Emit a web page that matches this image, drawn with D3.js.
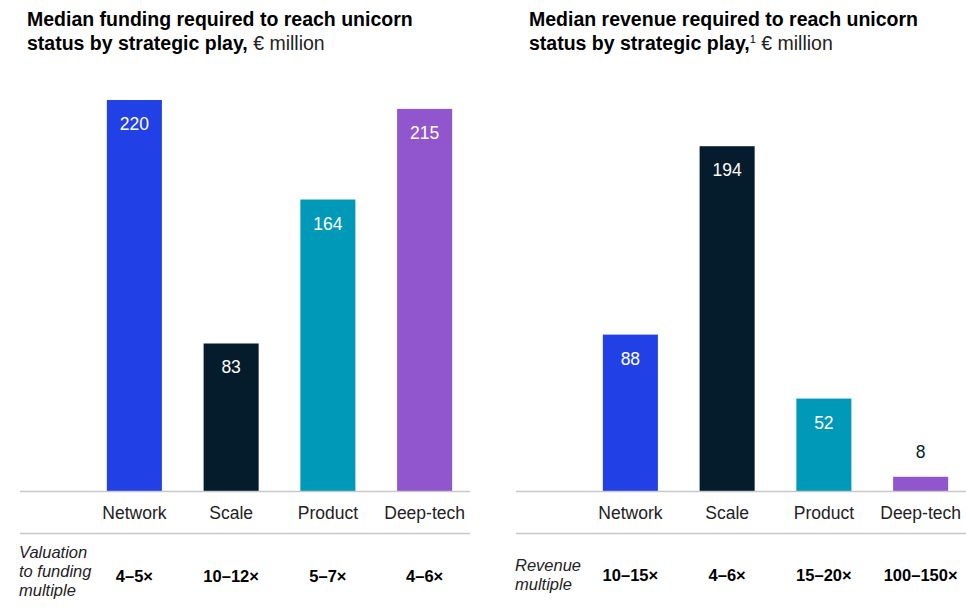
<!DOCTYPE html>
<html>
<head>
<meta charset="utf-8">
<script src="https://cdn.jsdelivr.net/npm/d3@7"></script>
<style>
  body { margin: 0; background: #fff; }
  text { font-family: "Liberation Sans", Arial, sans-serif; }
</style>
</head>
<body>
<div id="chart"></div>
<script>
var categories = ["Network", "Scale", "Product", "Deep-tech"];
var colors = ["#2140e6", "#051c2c", "#0099b7", "#9156cd"];
var fundingValues = [220, 83, 164, 215];
var revenueValues = [88, 194, 52, 8];
var fundingMultiples = ["4\u20135\u00d7", "10\u201312\u00d7", "5\u20137\u00d7", "4\u20136\u00d7"];
var revenueMultiples = ["10\u201315\u00d7", "4\u20136\u00d7", "15\u201320\u00d7", "100\u2013150\u00d7"];

var width = 966, height = 611;
var baseline = 491;

var svg = d3.select("#chart")
    .append("svg")
    .attr("width", width)
    .attr("height", height);

// shared value scale, both panels use the same px per million
var y = d3.scaleLinear()
    .domain([0, 220])
    .range([baseline, 100]);

var panels = [
    {
        x0: 20, x1: 470, titleX: 27,
        title1: "Median funding required to reach unicorn",
        title2: "status by strategic play,", sup: "", unit: " \u20ac million",
        values: fundingValues, multiples: fundingMultiples,
        rowLabel: ["Valuation", "to funding", "multiple"], rowY: 558, multY: 582
    },
    {
        x0: 516, x1: 966, titleX: 529,
        title1: "Median revenue required to reach unicorn",
        title2: "status by strategic play,", sup: "1", unit: " \u20ac million",
        values: revenueValues, multiples: revenueMultiples,
        rowLabel: ["Revenue", "multiple"], rowY: 571, multY: 581
    }
];

panels.forEach(function (p) {
    var g = svg.append("g");

    var x = d3.scaleBand()
        .domain(categories)
        .range([p.x0 + 66, p.x0 + 453])
        .paddingInner(0.431)
        .paddingOuter(0.2155);

    // title
    var t1 = g.append("text")
        .attr("x", p.titleX)
        .attr("y", 26)
        .style("font-size", "19.5px")
        .style("font-weight", "bold")
        .style("fill", "#000")
        .text(p.title1);
    var t2 = g.append("text")
        .attr("x", p.titleX)
        .attr("y", 50)
        .style("font-size", "19.5px")
        .style("fill", "#000");
    t2.append("tspan").style("font-weight", "bold").text(p.title2);
    if (p.sup) {
        t2.append("tspan").attr("dy", -7).style("font-size", "11px").text(p.sup);
        t2.append("tspan").attr("dy", 7).style("font-weight", "300").style("fill", "#222").text(p.unit);
    } else {
        t2.append("tspan").style("font-weight", "300").style("fill", "#222").text(p.unit);
    }

    // bars
    g.selectAll("rect.bar")
        .data(p.values)
        .enter()
        .append("rect")
        .attr("class", "bar")
        .attr("x", function (d, i) { return x(categories[i]); })
        .attr("y", function (d) { return y(d); })
        .attr("width", x.bandwidth())
        .attr("height", function (d) { return baseline - y(d); })
        .style("fill", function (d, i) { return colors[i]; });

    // value labels
    g.selectAll("text.val")
        .data(p.values)
        .enter()
        .append("text")
        .attr("class", "val")
        .attr("x", function (d, i) { return x(categories[i]) + x.bandwidth() / 2; })
        .attr("y", function (d) {
            return (baseline - y(d)) > 40 ? y(d) + 30 : y(d) - 19;
        })
        .attr("text-anchor", "middle")
        .style("font-size", "17.5px")
        .style("fill", function (d) { return (baseline - y(d)) > 40 ? "#fff" : "#051c2c"; })
        .text(function (d) { return d; });

    // axis lines
    g.append("line")
        .attr("x1", p.x0).attr("x2", p.x1)
        .attr("y1", baseline + 0.5).attr("y2", baseline + 0.5)
        .style("stroke", "#c8c8c8").style("stroke-width", 1.3);
    g.append("line")
        .attr("x1", p.x0).attr("x2", p.x1)
        .attr("y1", 533.5).attr("y2", 533.5)
        .style("stroke", "#c8c8c8").style("stroke-width", 1.3);

    // category labels
    g.selectAll("text.cat")
        .data(categories)
        .enter()
        .append("text")
        .attr("class", "cat")
        .attr("x", function (d) { return x(d) + x.bandwidth() / 2; })
        .attr("y", 519)
        .attr("text-anchor", "middle")
        .style("font-size", "17.5px")
        .style("fill", "#222")
        .text(function (d) { return d; });

    // multiples row
    g.selectAll("text.mult")
        .data(p.multiples)
        .enter()
        .append("text")
        .attr("class", "mult")
        .attr("x", function (d, i) { return x(categories[i]) + x.bandwidth() / 2; })
        .attr("y", p.multY)
        .attr("text-anchor", "middle")
        .style("font-size", "16.5px")
        .style("font-weight", "bold")
        .style("fill", "#000")
        .text(function (d) { return d; });

    // row label
    g.selectAll("text.row")
        .data(p.rowLabel)
        .enter()
        .append("text")
        .attr("class", "row")
        .attr("x", p.x0 - 1)
        .attr("y", function (d, i) { return p.rowY + i * 19; })
        .style("font-size", "16.5px")
        .style("font-style", "italic")
        .style("fill", "#222")
        .text(function (d) { return d; });
});
</script>
</body>
</html>
